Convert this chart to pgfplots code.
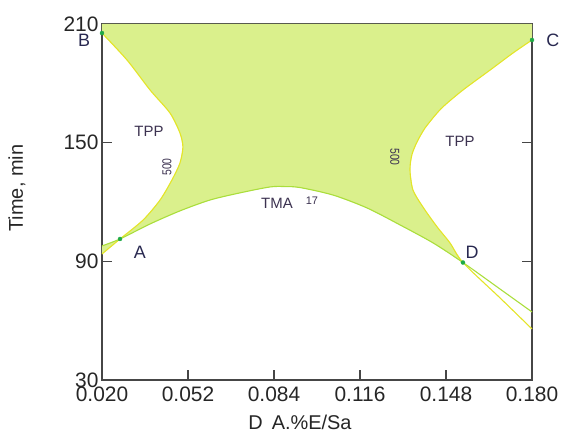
\documentclass[border=0pt]{standalone}
\usepackage{pgfplots}
\pgfplotsset{compat=1.18}
\usepackage{fontspec}
\setmainfont{Liberation Sans}
\definecolor{fillc}{RGB}{218,240,140}
\definecolor{tppc}{RGB}{228,228,40}
\definecolor{tmac}{RGB}{170,222,60}
\definecolor{dotc}{RGB}{30,170,70}
\definecolor{axc}{RGB}{70,70,70}
\definecolor{lblc}{RGB}{40,40,80}
\definecolor{txtc}{RGB}{60,50,80}
\begin{document}
\begin{tikzpicture}
\begin{axis}[
  at={(0,0)}, anchor=south west,
  scale only axis, width=430bp, height=356bp,
  xmin=0.020, xmax=0.180, ymin=30, ymax=210,
  xtick={0.020,0.052,0.084,0.116,0.148,0.180},
  xticklabels={0.020,0.052,0.084,0.116,0.148,0.180},
  ytick={30,90,150,210},
  tick align=inside,
  major tick length=10bp,
  axis line style={axc, line width=1.2pt},
  every tick/.style={axc, line width=1.2pt},
  ticklabel style={font=\fontsize{21}{24}\selectfont, text=black!85},
  xticklabel style={yshift=-3bp},
  /pgf/number format/assume math mode=true,
  xlabel={D\hspace{0.45em}A.\%E/Sa},
  ylabel={Time, min},
  label style={font=\fontsize{20}{23}\selectfont, text=black!85},
  xlabel style={at={(axis description cs:0.4605,-0.118)}, anchor=center},
  ylabel style={at={(axis description cs:-0.1977,0.539)}, anchor=center},
  clip=false,
]
% filled region
\addplot[fill=fillc, draw=none] coordinates {
 (0.020,210) (0.020,205.4) (0.0293,191.8) (0.0379,176.6) (0.0453,165.0)
 (0.0490,154.9) (0.0501,147.8) (0.0490,139.7) (0.0460,131.1) (0.0416,121.0)
 (0.0353,110.9) (0.0267,101.3)
 (0.0379,108.9) (0.0490,115.5) (0.0602,121.0) (0.0713,124.6) (0.0825,127.6)
 (0.0881,127.8) (0.0937,127.3) (0.1060,123.5) (0.1186,117.0) (0.1309,108.4)
 (0.1432,99.3) (0.1543,89.4)
 (0.1495,99.3) (0.1447,107.4) (0.1394,117.5) (0.1357,126.1) (0.1346,136.2)
 (0.1353,143.8) (0.1372,150.3) (0.1402,157.4) (0.1447,165.0) (0.1476,169.0)
 (0.1543,176.6) (0.1644,186.7) (0.1729,195.3) (0.180,201.9) (0.180,210)
} -- cycle;
\addplot[fill=fillc, draw=none] coordinates {
 (0.020,97.8) (0.0267,101.3) (0.020,93.7)
} -- cycle;
% left TPP contour
\addplot[tppc, line width=1.1pt, smooth, tension=0.5] coordinates {
 (0.020,205.4) (0.0293,191.8) (0.0379,176.6) (0.0453,165.0)
 (0.0490,154.9) (0.0501,147.8) (0.0490,139.7) (0.0460,131.1) (0.0416,121.0)
 (0.0353,110.9) (0.0267,101.3) (0.020,93.7)
};
% right TPP contour
\addplot[tppc, line width=1.1pt, smooth, tension=0.5] coordinates {
 (0.180,201.9) (0.1729,195.3) (0.1644,186.7) (0.1543,176.6) (0.1476,169.0)
 (0.1447,165.0) (0.1402,157.4) (0.1372,150.3) (0.1353,143.8) (0.1346,136.2)
 (0.1357,126.1) (0.1394,117.5) (0.1447,107.4) (0.1495,99.3) (0.1543,89.4)
 (0.1681,71.5) (0.180,55.8)
};
% TMA contour
\addplot[tmac, line width=1.1pt, smooth, tension=0.5] coordinates {
 (0.020,97.8) (0.0267,101.3) (0.0379,108.9) (0.0490,115.5) (0.0602,121.0)
 (0.0713,124.6) (0.0825,127.6) (0.0881,127.8) (0.0937,127.3) (0.1060,123.5)
 (0.1186,117.0) (0.1309,108.4) (0.1432,99.3) (0.1543,89.4) (0.1681,76.0)
 (0.180,64.4)
};
% points
\addplot[only marks, mark=*, mark size=2bp, dotc] coordinates {
 (0.020,205.4) (0.180,201.9) (0.0267,101.3) (0.1543,89.4)
};
% labels
\node[font=\fontsize{18}{20}\selectfont, text=lblc] at (axis cs:0.0133,201.6) {B};
\node[font=\fontsize{18}{20}\selectfont, text=lblc] at (axis cs:0.1878,201.9) {C};
\node[font=\fontsize{18}{20}\selectfont, text=lblc] at (axis cs:0.0341,94.7) {A};
\node[font=\fontsize{18}{20}\selectfont, text=lblc] at (axis cs:0.1577,94.7) {D};
\node[font=\fontsize{15}{17}\selectfont, text=txtc] at (axis cs:0.0375,155.9) {TPP};
\node[font=\fontsize{15}{17}\selectfont, text=txtc] at (axis cs:0.1532,150.8) {TPP};
\node[font=\fontsize{15}{17}\selectfont, text=txtc] at (axis cs:0.0851,119.5) {TMA};
\node[font=\fontsize{11}{13}\selectfont, text=txtc] at (axis cs:0.0981,120.5) {17};
\node[font=\fontsize{13}{15}\selectfont, text=txtc, rotate=90, xscale=0.8] at (axis cs:0.0442,137.7) {500};
\node[font=\fontsize{13}{15}\selectfont, text=txtc, rotate=-90, xscale=0.8] at (axis cs:0.1290,142.8) {500};
\end{axis}
\path (-102bp,-52bp) rectangle (461bp,380bp);
\end{tikzpicture}
\end{document}
